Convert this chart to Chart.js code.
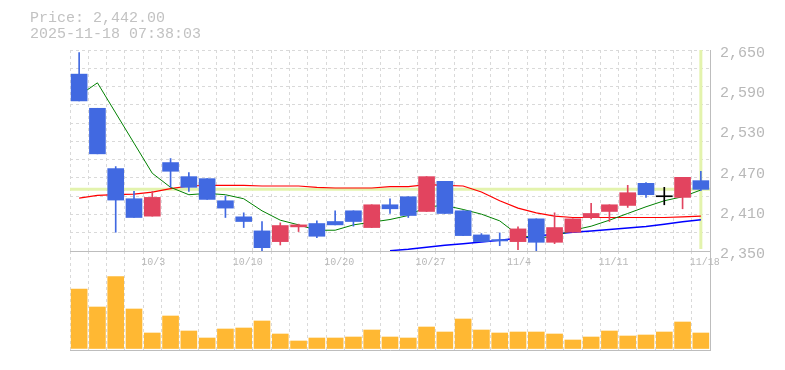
<!DOCTYPE html>
<html>
<head>
<meta charset="utf-8">
<script src="https://cdn.jsdelivr.net/npm/chart.js@4.4.1/dist/chart.umd.min.js"></script>
<style>
html,body{margin:0;padding:0;background:#fff;}
#wrap{position:relative;width:785px;height:370px;overflow:hidden;background:#fff;}
canvas{position:absolute;left:0;top:0;}
.hdr{position:absolute;left:30px;font-family:"Liberation Mono",monospace;font-size:15px;line-height:17px;color:#c2c2c2;white-space:pre;}
</style>
</head>
<body>
<div id="wrap">
  <canvas id="vol" width="785" height="370"></canvas>
  <canvas id="price" width="785" height="275"></canvas>
  <div class="hdr" id="h1" style="top:10px"></div>
  <div class="hdr" id="h2" style="top:26px"></div>
</div>
<script>
// ---------- data ----------
const dates = ['9/29','9/30','10/1','10/2','10/3','10/6','10/7','10/8','10/9','10/10',
  '10/14','10/15','10/16','10/17','10/20','10/21','10/22','10/23','10/24','10/27',
  '10/28','10/29','10/30','10/31','11/4','11/5','11/6','11/7','11/10','11/11',
  '11/12','11/13','11/14','11/17','11/18'];
const shownDates = ['10/3','10/10','10/20','10/27','11/4','11/11','11/18'];

const opens  = [2614,2563,2473,2428,2402,2482,2461,2458,2425,2401,2380,2364,2386,2391,2394,2410,2385,2419,2431,2409,2454,2410,2374,2367,2364,2398,2363,2378,2400,2409,2418,2451,2431,2430,2455];
const highs  = [2646,2563,2476,2439,2439,2488,2467,2458,2432,2407,2394,2392,2390,2395,2410,2410,2419,2428,2431,2461,2454,2410,2376,2377,2386,2398,2407,2398,2421,2419,2448,2452,2445,2460,2469];
const lows   = [2574,2495,2378,2400,2402,2445,2439,2427,2400,2385,2349,2359,2379,2370,2389,2387,2385,2406,2400,2409,2406,2373,2364,2358,2352,2349,2361,2378,2398,2394,2415,2430,2419,2413,2440];
const closes = [2574,2495,2426,2400,2430,2469,2445,2427,2414,2394,2355,2388,2389,2372,2389,2394,2419,2413,2403,2461,2406,2373,2364,2365,2383,2363,2385,2398,2406,2419,2437,2434,2431,2460,2442];

const ma5  = [2582,2601,2556,2511,2466,2445,2434,2436,2434,2428,2410,2396,2389,2381,2381,2389,2393,2397,2403,2416,2418,2412,2405,2395,2374,2369,2372,2381,2387,2396,2406,2416,2425,2431,2441];
const ma25 = [2429,2433,2434,2435,2438,2443,2447,2448,2448,2448,2447,2447,2447,2445,2444,2444,2444,2446,2446,2449,2448,2447,2438,2425,2414,2407,2402,2400,2400,2400,2400,2400,2400,2401,2402];
const ma75 = [null,null,null,null,null,null,null,null,null,null,null,null,null,null,null,null,null,
  2350.5,2352.5,2355.5,2358.5,2361,2363.5,2366,2369,2372,2375.5,2378,2380,2382,2384.5,2386.5,2390,2393.5,2396.5];

const volumes = [119000,83000,143600,79000,31000,65000,35000,21000,39000,41000,55000,29000,15000,21000,21000,23000,37000,23000,21000,43000,33000,59000,37000,31000,33000,33000,29000,17000,23000,35000,25000,27000,33000,53000,31000];

const priceTicks = [2350,2410,2470,2530,2590,2650];
const currentPrice = 2442;
const priceLabel = 'Price: 2,442.00';
const timeLabel = '2025-11-18 07:38:03';

// ---------- styles ----------
const UP = '#e2445f', DOWN = '#4169e1', EVEN = '#000000';
const GRID = '#d9d9d9', AXIS = '#bdbdbd', TICK = '#b8b8b8';
const MONO = 'Liberation Mono';

document.getElementById('h1').textContent = priceLabel;
document.getElementById('h2').textContent = timeLabel;

const candleColors = opens.map((o,i)=> closes[i] > o ? UP : (closes[i] < o ? DOWN : EVEN));

const markerPlugin = {
  id: 'marker',
  beforeDatasetsDraw(chart) {
    const {ctx, chartArea: a, scales: {x, y}} = chart;
    ctx.save();
    ctx.strokeStyle = '#e3f3ad';
    ctx.lineWidth = 3;
    const py = y.getPixelForValue(currentPrice);
    ctx.beginPath(); ctx.moveTo(a.left, py); ctx.lineTo(a.right, py); ctx.stroke();
    const px = x.getPixelForValue(dates.length - 1);
    ctx.beginPath(); ctx.moveTo(px, a.top); ctx.lineTo(px, a.bottom - 2); ctx.stroke();
    ctx.restore();
  }
};

new Chart(document.getElementById('price'), {
  type: 'bar',
  data: {
    labels: dates,
    datasets: [
      {type:'bar', label:'body', data: opens.map((o,i)=>[o, closes[i]]), backgroundColor: candleColors,
       barThickness:16, minBarLength:1, grouped:false, order:0, yAxisID:'y'},
      {type:'bar', label:'wick', data: lows.map((l,i)=>[l, highs[i]]), backgroundColor: candleColors,
       barThickness:1, grouped:false, order:1, yAxisID:'y'},
      {type:'line', label:'MA5', data: ma5, borderColor:'#008000', borderWidth:1, pointRadius:0, tension:0, order:2, yAxisID:'y'},
      {type:'line', label:'MA25', data: ma25, borderColor:'#ff0000', borderWidth:1.2, pointRadius:0, tension:0, order:3, yAxisID:'y'},
      {type:'line', label:'MA75', data: ma75, borderColor:'#0000ff', borderWidth:1.5, pointRadius:0, tension:0, order:4, yAxisID:'y'}
    ]
  },
  options: {
    responsive:false, animation:false, events:[],
    layout:{padding:{left:70, top:50, right:0, bottom:0}},
    plugins:{legend:{display:false}, tooltip:{enabled:false}},
    scales:{
      x:{
        type:'category', offset:true,
        grid:{offset:true, drawTicks:false, color:GRID, lineWidth:1},
        border:{display:true, color:AXIS, width:1, dash:[3,3]},
        ticks:{autoSkip:false, maxRotation:0, minRotation:0, align:'start', labelOffset:-11, padding:5,
          color:TICK, font:{family:MONO, size:10},
          callback(v){ const l = this.getLabelForValue(v); return shownDates.includes(l) ? l : ''; }},
        afterFit(s){ s.height = 24; }
      },
      y:{
        type:'linear', position:'right', min:2350, max:2650,
        grid:{display:false, drawTicks:false},
        border:{display:true, color:AXIS, width:1},
        ticks:{padding:10, labelOffset:3, color:TICK, font:{family:MONO, size:15},
          callback(v){ return Number(v).toLocaleString('en-US'); }},
        afterBuildTicks(s){ s.ticks = priceTicks.map(v=>({value:v})); },
        afterFit(s){ s.width = 75; }
      },
      yg:{
        type:'linear', position:'left', min:0, max:11,
        grid:{display:true, drawTicks:false, color:GRID, lineWidth:1},
        border:{display:false, dash:[3,3]},
        ticks:{display:false, stepSize:1, maxTicksLimit:30},
        afterFit(s){ s.width = 0; }
      }
    }
  },
  plugins:[markerPlugin]
});

new Chart(document.getElementById('vol'), {
  type: 'bar',
  data: {
    labels: dates,
    datasets: [{label:'volume', data: volumes, backgroundColor:'#ffb833', barThickness:16, yAxisID:'yv'}]
  },
  options: {
    responsive:false, animation:false, events:[],
    layout:{padding:{left:70, top:251, right:0, bottom:0}},
    plugins:{legend:{display:false}, tooltip:{enabled:false}},
    scales:{
      x:{
        type:'category', offset:true,
        grid:{offset:true, drawTicks:false, color:GRID, lineWidth:1},
        border:{display:true, color:AXIS, width:1, dash:[3,3]},
        ticks:{display:false},
        afterFit(s){ s.height = 20; }
      },
      yv:{
        type:'linear', position:'right', min:-3000, max:195000,
        grid:{display:false, drawTicks:false},
        border:{display:true, color:AXIS, width:1},
        ticks:{display:false},
        afterFit(s){ s.width = 75; }
      }
    }
  }
});
</script>
</body>
</html>
